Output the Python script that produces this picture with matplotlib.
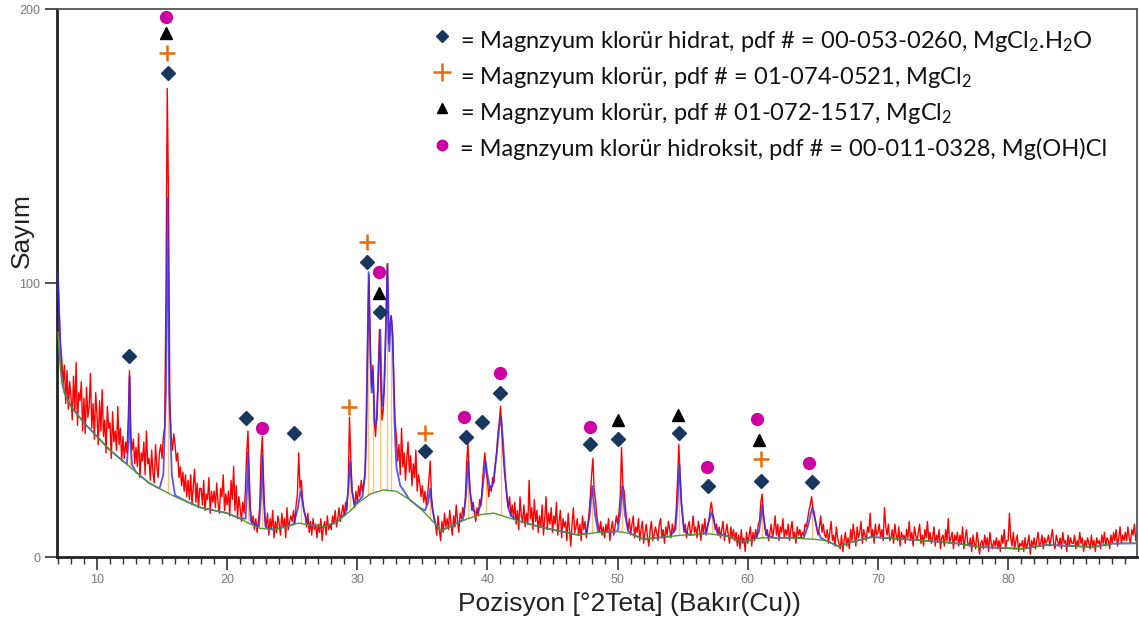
import numpy as np
import matplotlib
matplotlib.use('Agg')
import matplotlib.pyplot as plt
from matplotlib.ticker import MultipleLocator

# olculen sayim, 7.0 - 89.9 derece, 0.1 adim (her satir bir derece)
olcum_txt = """
104 90 78 72 63 70 56 68 54 64
59 50 66 53 71 48 60 57 64 46
58 45 62 51 55 67 47 56 43 60
52 41 57 46 61 44 50 38 55 47
49 36 53 42 46 39 55 41 47 35
44 36 42 38 50 68 45 39 43 34
40 33 45 29 38 35 42 30 46 34
36 28 39 31 27 41 33 29 38 41
36 44 47 96 171 128 58 44 39 45
41 35 38 29 33 26 31 24 30 22
28 21 30 19 26 32 20 27 18 25
25 19 28 17 23 21 29 16 24 20
24 18 27 20 16 25 22 30 17 23
19 24 15 28 21 33 17 26 14 22
18 13 20 16 24 38 46 30 17 12
15 10 14 9 13 18 36 44 28 14
11 16 8 14 10 17 7 13 9 15
12 8 16 11 14 7 18 10 13 15
13 17 12 19 23 38 25 28 21 17
15 11 16 9 13 8 14 10 12 7
12 9 14 6 11 13 8 15 10 12
10 15 12 17 11 14 18 13 16 19
15 20 17 26 51 36 24 21 18 24
20 26 22 28 24 27 31 45 80 103
78 62 70 50 44 52 66 83 64 50
54 66 84 107 78 85 88 83 66 50
44 35 41 30 47 33 38 28 36 42
31 37 26 34 29 39 24 30 27 22
26 20 24 19 23 28 35 22 17 14
12 8 15 10 6 13 9 16 11 14
10 17 12 8 15 11 19 13 9 16
14 18 15 22 34 42 30 22 17 20
16 13 18 15 21 19 26 33 38 31
28 22 26 24 29 27 34 38 45 49
55 47 38 31 27 21 18 22 15 19
14 20 12 17 10 22 15 13 19 11
16 12 28 14 18 10 21 13 17 9
15 11 19 8 14 22 10 16 12 18
9 15 12 20 8 13 17 7 14 11
13 6 16 10 4 12 18 9 11 14
8 12 6 15 10 13 7 11 16 22
30 36 24 21 15 12 9 13 8 11
7 12 9 14 6 10 13 8 11 15
12 16 22 40 26 24 18 13 10 14
8 12 15 7 11 9 14 6 10 13
5 9 12 7 4 10 13 6 8 11
9 6 12 14 7 10 5 11 8 13
10 7 12 9 11 17 28 41 30 19
14 9 12 7 11 13 8 10 15 9
11 7 13 10 6 12 9 14 8 11
13 17 20 16 14 10 12 8 11 7
10 13 6 9 12 8 5 11 7 10
6 9 4 8 3 10 5 7 2 9
5 8 11 4 9 6 10 7 12 13
20 23 16 11 8 10 6 9 12 7
10 15 8 12 6 11 9 14 7 10
8 12 6 10 13 7 9 5 11 8
10 7 9 8 12 11 14 17 19 22
18 16 13 10 8 11 15 9 12 8
7 10 5 9 13 6 8 4 11 7
5 3 8 2 6 9 4 7 3 10
6 12 8 4 11 7 9 13 5 10
8 6 11 9 16 7 10 5 12 8
9 12 7 10 6 18 11 8 12 6
7 10 5 12 8 6 11 4 9 7
8 5 10 7 13 6 9 4 11 8
6 9 12 5 8 4 10 7 13 6
9 5 7 11 4 8 6 10 3 7
8 4 10 6 14 5 7 9 3 8
6 9 4 8 5 11 3 7 10 5
4 7 2 8 5 3 9 6 1 5
6 3 8 4 7 2 9 5 3 6
4 7 3 6 2 8 5 10 3 6
6 16 7 4 9 3 6 8 2 5
4 6 2 7 3 5 8 1 6 4
7 3 6 9 4 5 8 3 7 5
6 8 4 7 10 5 3 8 6 4
7 3 9 5 6 2 8 4 7 5
5 8 3 6 4 9 5 7 2 6
4 7 5 3 8 4 6 2 7 5
6 3 8 5 9 4 7 6 3 8
5 9 6 10 4 7 11 5 8 6
9 6 11 7 5 10 8 12 6 9
"""
sayim = np.array(olcum_txt.split(), dtype=float)
teta = 7.0 + 0.1 * np.arange(len(sayim))

# arka plan (yesil)
bg_x = [7.0, 7.2, 7.5, 8, 9, 10, 11, 12, 13, 14, 15, 16, 17, 18, 19, 20, 21, 22, 22.5,
        23.5, 24.5, 25.5, 26.5, 27.5, 28.5, 29.5, 30, 31, 32, 33, 34, 35, 36, 36.4, 37.5,
        38.5, 39.5, 40.5, 41.5, 42.5, 44, 46, 47, 48.5, 50, 51, 52, 53, 55, 57, 58.5, 59.5,
        61, 63, 65, 66, 67, 68, 69.5, 72, 74, 76, 78, 80, 81, 83, 85, 86.5, 88, 89.9]
bg_y = [82, 68, 60, 55, 49, 44, 39, 35, 31, 27, 24.5, 22, 20, 18, 17, 16, 14, 11.5, 10.5,
        10, 11, 12.4, 11.5, 11, 13, 17, 19.5, 23, 24.5, 24, 21, 17, 12, 9.5, 12,
        14, 15.5, 16, 14.5, 13, 11, 9, 8, 9, 9.3, 8.5, 6.5, 7, 8, 8.5, 7.5, 5.5,
        7, 7, 6.5, 6, 3.8, 5.5, 7.3, 6.5, 5.8, 5, 3.6, 3.2, 3, 4.4, 4, 3.6, 4.9, 5]

# profil uyumu (mavi)
fit_x = [7.0, 7.1, 7.2, 7.3, 7.5, 8, 9, 10, 11, 12, 12.3, 12.42, 12.5, 12.58, 12.7, 13, 14, 14.8,
         15.1, 15.3, 15.42, 15.55, 15.75, 16, 17, 18, 19, 20, 21,
         21.42, 21.52, 21.6, 21.68, 21.82, 22.45, 22.6, 22.7, 22.8, 22.95,
         23.5, 24.5, 25.1, 25.4, 25.65, 25.9, 26.2, 26.5, 27.5, 28.5,
         29.1, 29.3, 29.45, 29.6, 29.8, 30.0, 30.4, 30.6, 30.75, 30.87,
         31.0, 31.1, 31.2, 31.35, 31.5, 31.65, 31.77, 31.9, 32.05, 32.2,
         32.33, 32.45, 32.6, 32.72, 32.85, 33.0, 33.3, 33.6, 34, 34.8,
         35.2, 35.45, 35.6, 35.75, 36.0, 36.4, 37.5, 38.1, 38.35, 38.5,
         38.65, 38.9, 39.2, 39.5, 39.7, 39.85, 40.0, 40.2, 40.4, 40.65,
         40.9, 41.05, 41.2, 41.4, 41.6, 41.8, 42.5, 44, 46, 47, 47.6,
         47.85, 48.05, 48.25, 48.5, 49.5, 50.0, 50.2, 50.36, 50.55, 50.8,
         51, 52, 53, 54, 54.45, 54.6, 54.75, 54.9, 55.1, 55.5, 56.5,
         56.8, 57.0, 57.22, 57.45, 57.7, 58.5, 59.5, 60.5, 60.85, 61.0,
         61.1, 61.22, 61.45, 62, 63, 64.3, 64.6, 64.95, 65.3, 65.6, 66,
         67, 68, 69.5, 72, 74, 76, 78, 80, 81, 83, 85, 86.5, 88, 89.9]
fit_y = [104, 88, 74, 64, 60, 55, 49, 44, 39, 35, 34, 42, 66, 42, 33.5, 31, 27, 25,
         30, 60, 131, 60, 30, 22.5, 20, 18, 17, 16, 14,
         14, 24, 38, 24, 13, 11, 22, 37, 22, 11,
         10, 11, 12, 17, 24.5, 17, 12, 11.5, 11, 13,
         16, 24, 35, 24, 19, 20, 22, 30, 65, 104,
         72, 60, 68, 48, 50, 70, 83, 55, 60, 85,
         107, 75, 88, 80, 50, 33, 26, 24, 21, 18,
         17, 20, 25, 18, 12, 9.5, 12, 13.5, 22, 35,
         24, 17, 16, 19, 28, 35, 30, 25, 26, 35,
         47, 51, 42, 27, 18, 15, 13, 11, 9, 8, 8.7,
         15, 26, 16, 9, 9.2, 9.4, 16, 26, 16, 9.5,
         8.5, 6.5, 7, 7.5, 10, 20, 33.6, 20, 10, 8, 8.4,
         9, 13, 16.4, 12, 8.5, 7.5, 5.5, 6.5, 9, 14,
         19, 14, 8, 7, 7, 7, 11, 18, 11, 7, 6,
         3.8, 5.5, 7.3, 6.5, 5.8, 5, 3.6, 3.2, 3, 4.4, 4, 3.6, 4.9, 5]

# pik cubuklari (turuncu)
pik_x = [12.5, 15.42, 21.6, 22.7, 25.65, 29.45, 30.85, 31.2, 31.75, 32.3, 32.6,
         35.6, 38.5, 39.85, 41.05, 48.05, 50.36, 54.75, 57.22, 61.1, 64.95]
pik_y = [66, 131, 38, 37, 24, 35, 100, 68, 80, 105, 86,
         25, 35, 35, 51, 26, 26, 33, 16, 19, 18]

# faz isaretleri
hidrat_x = [12.49, 15.43, 21.46, 25.1, 30.71, 31.77, 35.2, 38.36, 39.6, 40.95,
            47.9, 50.0, 54.7, 56.95, 61.0, 64.92]
hidrat_y = [73.4, 176.8, 50.6, 45.1, 107.8, 89.5, 38.8, 43.9, 49.4, 60.0,
            41.2, 43.0, 45.1, 25.9, 27.9, 27.4]
klorur_x = [15.4, 29.4, 30.71, 35.2, 61.0]
klorur_y = [184, 54.9, 115, 45.2, 35.6]
klorur2_x = [15.28, 31.65, 50.0, 54.67, 60.86]
klorur2_y = [191.4, 96.2, 50, 51.8, 42.7]
hidroksit_x = [15.28, 22.7, 31.7, 38.2, 40.95, 47.9, 56.9, 60.7, 64.69]
hidroksit_y = [197, 47.2, 103.9, 51, 67.2, 47.6, 32.7, 50.2, 34.3]

legend_labels = [
    "= Magnzyum klorür hidrat, pdf # = 00-053-0260, MgCl$_2$.H$_2$O",
    "= Magnzyum klorür, pdf # = 01-074-0521, MgCl$_2$",
    "= Magnzyum klorür, pdf # 01-072-1517, MgCl$_2$",
    "= Magnzyum klorür hidroksit, pdf # = 00-011-0328, Mg(OH)Cl",
]

plt.rcParams['mathtext.fontset'] = 'custom'
plt.rcParams['mathtext.rm'] = 'Lato'
plt.rcParams['mathtext.it'] = 'Lato'

W, H = 1139, 622
fig = plt.figure(figsize=(W / 100, H / 100), dpi=100)
ax = fig.add_axes([57 / W, 1 - 557 / H, 1080 / W, 548 / H])

ax.vlines(pik_x, np.interp(pik_x, bg_x, bg_y), pik_y, color='#ffc27a', lw=1.0, zorder=1)
ax.plot(teta, sayim, color='#ff0000', lw=1.0, zorder=2)
ax.plot(fit_x, fit_y, color='#2b2bff', lw=1.3, alpha=0.8, zorder=3)
ax.plot(bg_x, bg_y, color='#4f9a2e', lw=1.0, zorder=4)

ax.plot(hidrat_x, hidrat_y, 'D', color='#17375e', ms=7.5, ls='none', zorder=6)
ax.plot(klorur_x, klorur_y, '+', color='#e46c0a', ms=12, mew=1.8, ls='none', zorder=6)
ax.plot(klorur2_x, klorur2_y, '^', color='black', ms=8.5, ls='none', zorder=6)
ax.plot(hidroksit_x, hidroksit_y, 'o', color='#cc00a3', ms=8.5, ls='none', zorder=6)

ax.set_xlim(6.93, 89.9)
ax.set_ylim(0, 200)
ax.set_xticks(range(10, 90, 10))
ax.xaxis.set_minor_locator(MultipleLocator(1))
ax.set_yticks([0, 100, 200])
ax.tick_params(axis='both', which='major', direction='out', length=9, width=1.2,
               color='#333333', labelcolor='#7a7a7a', labelsize=9, pad=3)
ax.tick_params(axis='x', which='minor', direction='out', length=5, width=1.0, color='#333333')
for lab in ax.get_xticklabels() + ax.get_yticklabels():
    lab.set_family('Liberation Sans')
for side in ['left', 'bottom']:
    ax.spines[side].set_linewidth(2.0)
    ax.spines[side].set_color('#222222')
for side in ['top', 'right']:
    ax.spines[side].set_linewidth(1.3)
    ax.spines[side].set_color('#555555')

fig.text(22 / W, 1 - 231 / H, 'Sayım', rotation=90, ha='center', va='center',
         fontsize=19, family='Liberation Sans', color='#222222')
fig.text(629 / W, 1 - 604 / H, 'Pozisyon [°2Teta] (Bakır(Cu))', ha='center', va='center',
         fontsize=19, family='Liberation Sans', color='#222222')

# aciklama (lejant)
leg_marker = [('D', '#17375e', 6.5, 0), ('+', '#e46c0a', 13, 1.8), ('^', 'black', 7, 0), ('o', '#cc00a3', 7.5, 0)]
mark_y = [36, 72, 108, 145]
text_y = [42, 77, 113, 149]
for (m, c, s, mw), my, ty, lab in zip(leg_marker, mark_y, text_y, legend_labels):
    fig.lines.append(plt.Line2D([442 / W], [1 - my / H], marker=m, color=c, ms=s,
                                mew=mw if mw else 1.0, ls='none', transform=fig.transFigure))
    fig.text(460 / W, 1 - ty / H, lab, ha='left', va='center', fontsize=17,
             family='Lato', color='#111111')

fig.savefig('out.png', dpi=100)
